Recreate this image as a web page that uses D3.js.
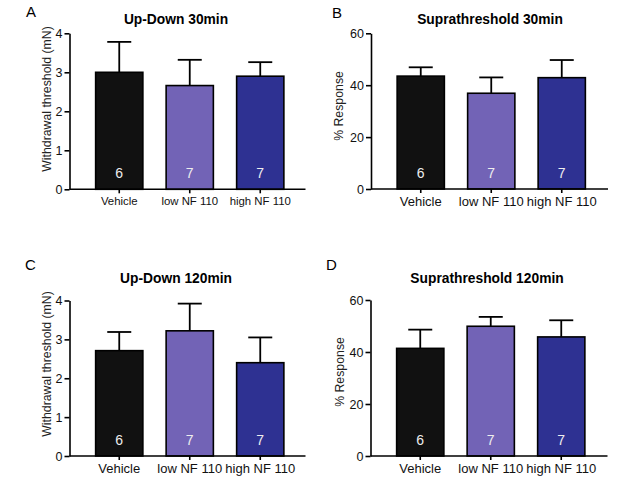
<!DOCTYPE html>
<html>
<head>
<meta charset="utf-8">
<script src="https://cdn.jsdelivr.net/npm/d3@7/dist/d3.min.js"></script>
<style>
  body { margin: 0; background: #fff; }
  svg { font-family: "Liberation Sans", Arial, sans-serif; }
  .axis path, .axis line { stroke: #000; stroke-width: 1.6px; }
  .axis text { fill: #111; }
</style>
</head>
<body>
<script>
// Data

var categories = ['Vehicle', 'low NF 110', 'high NF 110'];
var groupN = [6, 7, 7];
var barColors = ['#111111', '#7263b6', '#2e3192'];

var upDown30Mean = [3.00, 2.66, 2.90];
var upDown30Sem = [0.78, 0.66, 0.36];

var supra30Mean = [43.5, 36.9, 42.9];
var supra30Sem = [3.4, 6.1, 6.8];

var upDown120Mean = [2.71, 3.22, 2.40];
var upDown120Sem = [0.48, 0.70, 0.65];

var supra120Mean = [41.4, 49.9, 45.8];
var supra120Sem = [7.2, 3.6, 6.4];

var upDownTicks = [0, 1, 2, 3, 4];
var supraTicks = [0, 20, 40, 60];


var svg = d3.select('body').append('svg')
    .attr('width', 617)
    .attr('height', 484);

// Draws one bar panel with error bars (mean + SEM)
// p : layout of the panel
function drawPanel(p) {
    var g = svg.append('g')
        .attr('transform', 'translate(' + p.x + ',' + p.y + ')');

    var x = d3.scaleBand()
        .domain(categories)
        .range([14.5, 14.5 + 3 * 70.5])
        .paddingInner(0.33)
        .paddingOuter(0.165);

    var y = d3.scaleLinear()
        .domain(p.domain)
        .range([p.h, 0]);

    var rows = categories.map(function (c, i) {
        return { cat: c, mean: p.mean[i], sem: p.sem[i], n: groupN[i], color: barColors[i] };
    });

    // bars
    g.selectAll('rect.bar').data(rows).enter()
        .append('rect')
        .attr('class', 'bar')
        .attr('x', function (d) { return x(d.cat); })
        .attr('y', function (d) { return y(d.mean); })
        .attr('width', x.bandwidth())
        .attr('height', function (d) { return p.h - y(d.mean); })
        .attr('fill', function (d) { return d.color; })
        .attr('stroke', '#000')
        .attr('stroke-width', 1.6);

    // error bars
    var cx = function (d) { return x(d.cat) + x.bandwidth() / 2; };
    g.selectAll('line.err').data(rows).enter()
        .append('line')
        .attr('x1', cx).attr('x2', cx)
        .attr('y1', function (d) { return y(d.mean); })
        .attr('y2', function (d) { return y(d.mean + d.sem); })
        .attr('stroke', '#000').attr('stroke-width', 1.8);
    g.selectAll('line.cap').data(rows).enter()
        .append('line')
        .attr('x1', function (d) { return cx(d) - 12; })
        .attr('x2', function (d) { return cx(d) + 12; })
        .attr('y1', function (d) { return y(d.mean + d.sem); })
        .attr('y2', function (d) { return y(d.mean + d.sem); })
        .attr('stroke', '#000').attr('stroke-width', 1.8);

    // n per group
    g.selectAll('text.n').data(rows).enter()
        .append('text')
        .attr('x', cx)
        .attr('y', p.h - 11)
        .attr('text-anchor', 'middle')
        .attr('fill', '#eeeeee')
        .style('font-size', '14px')
        .text(function (d) { return d.n; });

    // axes
    g.append('g')
        .attr('class', 'axis')
        .call(d3.axisLeft(y).tickValues(p.ticks).tickFormat(d3.format('d'))
            .tickSize(5).tickSizeOuter(0).tickPadding(2))
        .selectAll('text').style('font-size', '12.5px');

    var xa = g.append('g')
        .attr('class', 'axis')
        .attr('transform', 'translate(0,' + p.h + ')')
        .call(d3.axisBottom(x).tickSize(4).tickSizeOuter(0).tickPadding(4));
    xa.select('path.domain').attr('d', 'M0,0H' + p.w);
    xa.selectAll('text').style('font-size', p.catFont + 'px');

    // titles and labels
    svg.append('text')
        .attr('x', p.titleX).attr('y', p.titleY)
        .attr('text-anchor', 'middle')
        .style('font-size', '13.8px').style('font-weight', 'bold')
        .text(p.title);

    svg.append('text')
        .attr('x', p.letterX).attr('y', p.letterY)
        .style('font-size', '15px')
        .text(p.letter);

    svg.append('text')
        .attr('transform', 'translate(' + p.labelX + ',' + p.labelY + ') rotate(-90)')
        .attr('text-anchor', 'middle')
        .attr('dy', '0.35em')
        .attr('fill', '#222')
        .style('font-size', '12.3px')
        .text(p.label);
}

drawPanel({
    x: 69.5, y: 33.3, w: 236, h: 156, domain: [0, 4], ticks: upDownTicks,
    mean: upDown30Mean, sem: upDown30Sem, catFont: 11.4,
    title: 'Up-Down 30min', titleX: 176, titleY: 24,
    letter: 'A', letterX: 26, letterY: 17,
    label: 'Withdrawal threshold (mN)', labelX: 47, labelY: 99
});

drawPanel({
    x: 371, y: 33.3, w: 237, h: 155.7, domain: [0, 60], ticks: supraTicks,
    mean: supra30Mean, sem: supra30Sem, catFont: 13,
    title: 'Suprathreshold 30min', titleX: 490, titleY: 24,
    letter: 'B', letterX: 332, letterY: 18,
    label: '% Response', labelX: 339, labelY: 106
});

drawPanel({
    x: 69.5, y: 300.5, w: 236, h: 155.5, domain: [0, 4], ticks: upDownTicks,
    mean: upDown120Mean, sem: upDown120Sem, catFont: 13,
    title: 'Up-Down 120min', titleX: 176, titleY: 283,
    letter: 'C', letterX: 25, letterY: 270,
    label: 'Withdrawal threshold (mN)', labelX: 47, labelY: 364
});

drawPanel({
    x: 370.5, y: 300, w: 237, h: 156, domain: [0, 60], ticks: supraTicks,
    mean: supra120Mean, sem: supra120Sem, catFont: 13,
    title: 'Suprathreshold 120min', titleX: 487, titleY: 283,
    letter: 'D', letterX: 326, letterY: 270,
    label: '% Response', labelX: 340, labelY: 372
});
</script>
</body>
</html>
